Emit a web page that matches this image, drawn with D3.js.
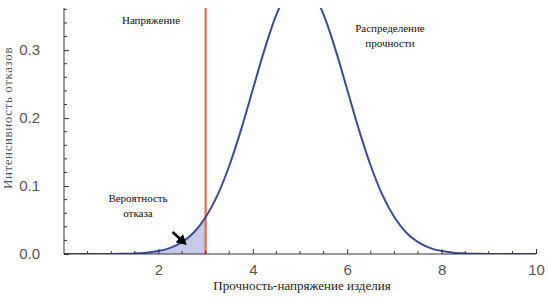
<!DOCTYPE html>
<html><head><meta charset="utf-8">
<script src="https://cdn.jsdelivr.net/npm/d3@7"></script>
<style>body{margin:0;background:#fff}svg{display:block}
.serif{font-family:"Liberation Serif","DejaVu Serif","Times New Roman",serif}
.sans{font-family:"Liberation Sans","DejaVu Sans",Arial,sans-serif}</style>
</head><body>
<svg id="c" width="548" height="297"></svg>
<script>
// Data: strength distribution curve (x, intensity)
const xs = [0,0.25,0.5,0.75,1,1.25,1.5,1.75,2,2.25,2.5,2.75,3,3.25,3.5,3.75,4,4.25,4.5,4.75,5,5.25,5.5,5.75,6,6.25,6.5,6.75,7,7.25,7.5,7.75,8,8.25,8.5,8.75,9,9.25,9.5,9.75,10];
const ys = [0.0000,0.0000,0.0000,0.0000,0.0001,0.0004,0.0009,0.0020,0.0044,0.0091,0.0175,0.0317,0.0540,0.0863,0.1295,0.1826,0.2420,0.3011,0.3521,0.3867,0.3989,0.3867,0.3521,0.3011,0.2420,0.1826,0.1295,0.0863,0.0540,0.0317,0.0175,0.0091,0.0044,0.0020,0.0009,0.0004,0.0001,0.0000,0.0000,0.0000,0.0000];
const stressX = 3;
const xMajor = [2,4,6,8,10];
const yMajor = [0.0,0.1,0.2,0.3];
const labels = {x:"Прочность-напряжение изделия", y:"Интенсивность отказов",
  stress:"Напряжение", dist:["Распределение","прочности"], prob:["Вероятность","отказа"]};

const svg = d3.select("#c");
const L=64, R=536, T=8, B=254;
const x = d3.scaleLinear().domain([0,10]).range([L,R]);
const y = d3.scaleLinear().domain([0,0.362]).range([B,T]);
const pts = xs.map((v,i)=>({x:v,y:ys[i]}));

svg.append("defs").append("clipPath").attr("id","clip")
  .append("rect").attr("x",L).attr("y",T).attr("width",R-L).attr("height",B-T);

const g = svg.append("g").attr("clip-path","url(#clip)");
const shade = pts.filter(p=>p.x<=stressX);
g.append("path").datum(shade)
  .attr("d", d3.area().x(d=>x(d.x)).y0(y(0)).y1(d=>y(d.y)).curve(d3.curveMonotoneX))
  .attr("fill","#c6c9e9");
g.append("line").attr("x1",x(stressX)).attr("x2",x(stressX)).attr("y1",T).attr("y2",B)
  .attr("stroke","#ec6a45").attr("stroke-width",2.2);
g.append("path").datum(pts)
  .attr("d", d3.line().x(d=>x(d.x)).y(d=>y(d.y)).curve(d3.curveMonotoneX))
  .attr("fill","none").attr("stroke","#3d4a96").attr("stroke-width",2);

const ax = svg.append("g").attr("transform",`translate(0,${B})`)
  .call(d3.axisBottom(x).tickValues(xMajor).tickSize(-5).tickFormat(d3.format("d")).tickPadding(10));
const ay = svg.append("g").attr("transform",`translate(${L},0)`)
  .call(d3.axisLeft(y).tickValues(yMajor).tickSize(-5).tickFormat(d3.format(".1f")).tickPadding(24));
[ax,ay].forEach(a=>{
  a.attr("font-family",null).attr("font-size",null);
  a.select(".domain").attr("stroke","#333").attr("stroke-width",1);
  a.selectAll(".tick line").attr("stroke","#333");
  a.selectAll("text").attr("class","sans").style("font-size","15px").attr("fill","#555");
});
ax.select(".domain").attr("d",`M${L},0H${R}`);
ay.select(".domain").attr("d",`M0,${B}V${T}`);
const xMinor = d3.range(0.5,10,0.5).filter(v=>xMajor.indexOf(v)<0);
svg.append("g").selectAll("line").data(xMinor).join("line")
  .attr("x1",d=>x(d)).attr("x2",d=>x(d)).attr("y1",B).attr("y2",B-3).attr("stroke","#333");
const yMinor = d3.range(0.02,0.361,0.02).filter(v=>Math.abs(v*10-Math.round(v*10))>1e-6);
svg.append("g").selectAll("line").data(yMinor).join("line")
  .attr("x1",L).attr("x2",L+3).attr("y1",d=>y(d)).attr("y2",d=>y(d)).attr("stroke","#333");

svg.append("text").attr("class","serif").attr("x",(L+R)/2+2).attr("y",290).attr("text-anchor","middle")
  .style("font-size","13px").attr("fill","#222").text(labels.x);
svg.append("text").attr("class","serif").attr("transform","translate(12,118) rotate(-90)").attr("text-anchor","middle")
  .style("font-size","13px").style("letter-spacing","0.6px").attr("fill","#555").text(labels.y);
const ann = (t,xx,yy)=>svg.append("text").attr("class","serif").attr("x",xx).attr("y",yy).attr("text-anchor","middle")
  .style("font-size","11px").attr("fill","#111").text(t);
ann(labels.stress,151,24);
ann(labels.dist[0],390,32); ann(labels.dist[1],390,47);
ann(labels.prob[0],138,202); ann(labels.prob[1],138,217);
// arrow
const ax0=x(2.3), ay0=232, ax1=x(2.6), ay1=245;
svg.append("line").attr("x1",ax0).attr("y1",ay0).attr("x2",ax0+(ax1-ax0)*0.5).attr("y2",ay0+(ay1-ay0)*0.5)
  .attr("stroke","#000").attr("stroke-width",2.5);
const ang=Math.atan2(ay1-ay0,ax1-ax0);
const hl=10, hw=5.5;
const bx=ax1-hl*Math.cos(ang), by=ay1-hl*Math.sin(ang);
svg.append("path").attr("d",`M${ax1},${ay1}L${bx+hw*Math.sin(ang)},${by-hw*Math.cos(ang)}L${bx-hw*Math.sin(ang)},${by+hw*Math.cos(ang)}Z`)
  .attr("fill","#000");
</script>
</body></html>
